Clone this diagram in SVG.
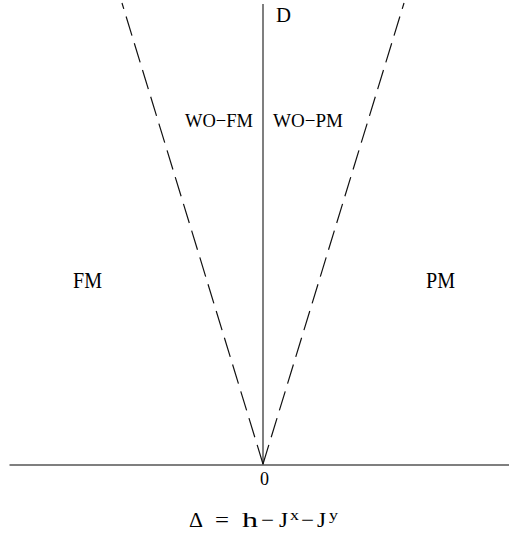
<svg xmlns="http://www.w3.org/2000/svg" width="509" height="535" viewBox="0 0 509 535">
<style>
.t{font-family:"Liberation Serif","DejaVu Serif",serif;fill:#000}
.ax{stroke:#555;stroke-width:1.5;fill:none}
.ds{stroke:#111;stroke-width:1.2;fill:none;stroke-dasharray:20 8}
</style>
<rect width="509" height="535" fill="#fff"/>
<g id="connectors">
<line class="ax" x1="9.5" y1="465" x2="509" y2="465"/>
<line class="ax" x1="263" y1="4" x2="263" y2="465"/>
<line class="ds" x1="263" y1="464" x2="122" y2="3"/>
<line class="ds" x1="263" y1="464" x2="404" y2="3"/>
</g>
<g id="D"><text class="t" x="276" y="22" font-size="20" textLength="15" lengthAdjust="spacingAndGlyphs">D</text></g>
<g id="WO-FM"><text class="t" x="185" y="127" font-size="19" textLength="68" lengthAdjust="spacingAndGlyphs">WO−FM</text></g>
<g id="WO-PM"><text class="t" x="273" y="127" font-size="19" textLength="70" lengthAdjust="spacingAndGlyphs">WO−PM</text></g>
<g id="FM"><text class="t" x="73" y="288" font-size="23" textLength="29" lengthAdjust="spacingAndGlyphs">FM</text></g>
<g id="PM"><text class="t" x="426" y="288" font-size="23" textLength="29" lengthAdjust="spacingAndGlyphs">PM</text></g>
<g id="origin"><text class="t" x="264.5" y="485" font-size="18" text-anchor="middle">0</text></g>
<g id="formula"><text class="t" y="527" font-size="21"><tspan x="189" textLength="14" lengthAdjust="spacingAndGlyphs">Δ</tspan><tspan x="215" textLength="14" lengthAdjust="spacingAndGlyphs">=</tspan><tspan x="242" textLength="16" lengthAdjust="spacingAndGlyphs">h</tspan><tspan x="261" textLength="13" lengthAdjust="spacingAndGlyphs">−</tspan><tspan x="279" textLength="9" lengthAdjust="spacingAndGlyphs">J</tspan><tspan x="290" font-size="14" dy="-7" textLength="9" lengthAdjust="spacingAndGlyphs">x</tspan><tspan x="301" dy="7" textLength="13" lengthAdjust="spacingAndGlyphs">−</tspan><tspan x="317" textLength="9" lengthAdjust="spacingAndGlyphs">J</tspan><tspan x="329" font-size="14" dy="-7" textLength="9" lengthAdjust="spacingAndGlyphs">y</tspan></text></g>
</svg>
